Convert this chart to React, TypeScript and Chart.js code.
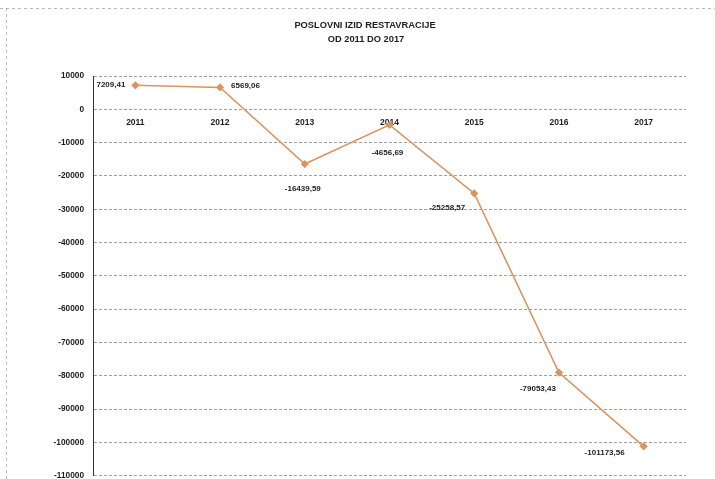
import React, { useEffect, useRef } from "react";
import { Chart, registerables } from "chart.js";

Chart.register(...registerables);

const categories = ["2011", "2012", "2013", "2014", "2015", "2016", "2017"];
const values = [7209.41, 6569.06, -16439.59, -4656.69, -25258.57, -79053.43, -101173.56];
const valueLabels = ["7209,41", "6569,06", "-16439,59", "-4656,69", "-25258,57", "-79053,43", "-101173,56"];
const titleLines = ["POSLOVNI IZID RESTAVRACIJE", "OD 2011 DO 2017"];
const yMin = -110000;
const yMax = 10000;
const yStep = 10000;

const LINE_COLOR = "#d9955f";
const TEXT_COLOR = "#1e1e1e";
const CANVAS_H = 488;

// label placement relative to each point: [dx, dy, textAlign]
const labelPlacement: [number, number, CanvasTextAlign][] = [
  [-10, 0, "right"],
  [11, -2, "left"],
  [-2, 25, "center"],
  [-2, 28, "center"],
  [-27, 14, "center"],
  [-21, 16, "center"],
  [-39, 7, "center"],
];

const decorPlugin = {
  id: "decor",
  beforeDraw(chart: any) {
    const ctx = chart.ctx;
    ctx.save();
    ctx.strokeStyle = "rgba(120,120,120,0.5)";
    ctx.lineWidth = 1;
    ctx.setLineDash([3, 3]);
    ctx.beginPath();
    ctx.moveTo(0, 8.5);
    ctx.lineTo(715, 8.5);
    ctx.moveTo(6.5, 8);
    ctx.lineTo(6.5, CANVAS_H);
    ctx.stroke();
    ctx.restore();
  },
  afterDraw(chart: any) {
    const ctx = chart.ctx;
    ctx.save();
    ctx.fillStyle = TEXT_COLOR;
    ctx.textAlign = "center";
    ctx.textBaseline = "middle";
    ctx.font = "bold 9.3px 'Liberation Sans', Arial, sans-serif";
    ctx.fillText(titleLines[0], 365, 25);
    ctx.fillText(titleLines[1], 366, 39);

    const meta = chart.getDatasetMeta(0);
    ctx.font = "bold 8px 'Liberation Sans', Arial, sans-serif";
    meta.data.forEach((pt: any, i: number) => {
      const [dx, dy, align] = labelPlacement[i];
      ctx.textAlign = align;
      ctx.fillText(valueLabels[i], pt.x + dx, pt.y + dy);
    });
    ctx.restore();
  },
};

export default function App() {
  const canvasRef = useRef<HTMLCanvasElement | null>(null);

  useEffect(() => {
    if (!canvasRef.current) return;
    const chart = new Chart(canvasRef.current, {
      type: "line",
      data: {
        labels: categories,
        datasets: [
          {
            data: values,
            borderColor: LINE_COLOR,
            backgroundColor: LINE_COLOR,
            borderWidth: 1.6,
            pointStyle: "rectRot",
            pointRadius: 3,
            pointBackgroundColor: LINE_COLOR,
            pointBorderColor: LINE_COLOR,
            tension: 0,
          },
        ],
      },
      options: {
        animation: false,
        responsive: false,
        maintainAspectRatio: false,
        layout: { padding: { top: 76, right: 29, bottom: 0, left: 0 } },
        plugins: {
          legend: { display: false },
          tooltip: { enabled: false },
          title: { display: false },
        },
        scales: {
          x: {
            type: "category",
            offset: true,
            position: { y: 0 } as any,
            grid: { display: false, drawTicks: false },
            border: { display: false },
            ticks: {
              color: TEXT_COLOR,
              padding: 8,
              maxRotation: 0,
              font: { family: "'Liberation Sans', Arial, sans-serif", size: 8.5, weight: "bold" },
            },
          },
          y: {
            min: yMin,
            max: yMax,
            afterFit: (scale: any) => {
              scale.width = 93;
            },
            ticks: {
              stepSize: yStep,
              color: TEXT_COLOR,
              padding: 9,
              callback: (v: any) => String(v),
              font: { family: "'Liberation Sans', Arial, sans-serif", size: 8.3, weight: "bold", lineHeight: 0.8 },
            },
            grid: {
              color: "#a0a0a0",
              lineWidth: 1,
              drawTicks: false,
            },
            border: { display: true, color: "#333333", width: 1, dash: [3, 2] },
          },
        },
      },
      plugins: [decorPlugin],
    });
    return () => chart.destroy();
  }, []);

  return (
    <div style={{ position: "absolute", left: 0, top: 0, width: 715, height: 479, overflow: "hidden", background: "#ffffff" }}>
      <canvas ref={canvasRef} width={715} height={CANVAS_H} style={{ width: 715, height: CANVAS_H, display: "block" }} />
    </div>
  );
}
